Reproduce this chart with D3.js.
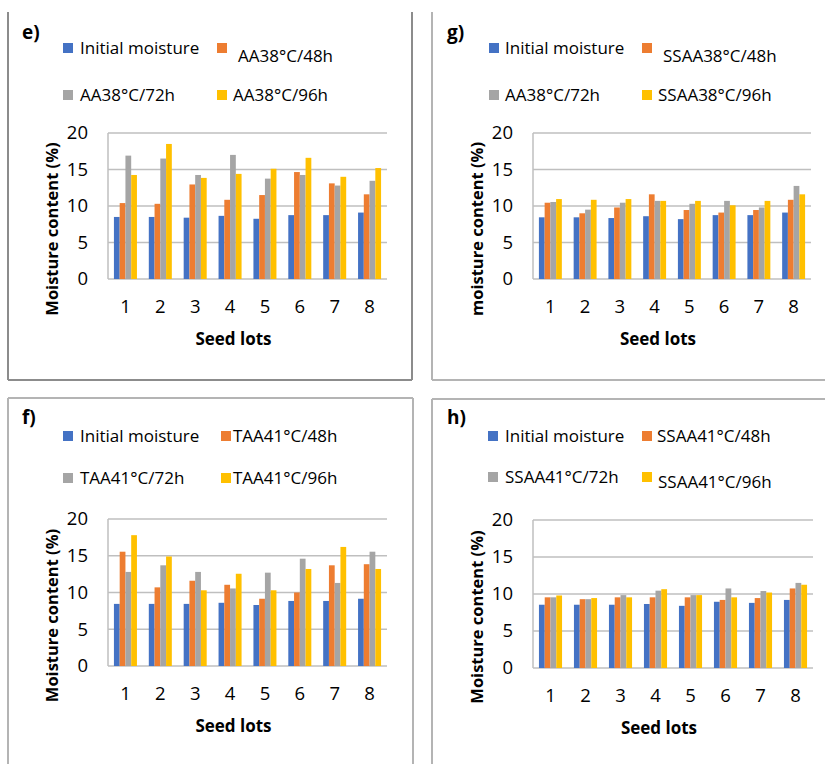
<!DOCTYPE html>
<html>
<head>
<meta charset="utf-8">
<script src="https://cdn.jsdelivr.net/npm/d3@7"></script>
<style>
  body { margin: 0; background: #fff; }
  svg text { font-family: "Open Sans", "DejaVu Sans", sans-serif; fill: #000; }
</style>
</head>
<body>
<svg id="chart" width="825" height="764"></svg>
<script>
// seed lots on the x axis
var seedLots = ['1', '2', '3', '4', '5', '6', '7', '8'];
var yTicks = [0, 5, 10, 15, 20];
var colors = ['#4472C4', '#ED7D31', '#A5A5A5', '#FFC000'];

// e) AA 38°C
var eNames = ['Initial moisture', 'AA38°C/48h', 'AA38°C/72h', 'AA38°C/96h'];
var eInitial = [8.5, 8.5, 8.4, 8.65, 8.25, 8.75, 8.75, 9.1];
var e48 = [10.4, 10.3, 12.95, 10.85, 11.5, 14.65, 13.1, 11.6];
var e72 = [16.9, 16.5, 14.25, 17.0, 13.75, 14.25, 12.8, 13.45];
var e96 = [14.25, 18.5, 13.85, 14.4, 15.1, 16.6, 14.0, 15.2];

// g) SSAA 38°C
var gNames = ['Initial moisture', 'SSAA38°C/48h', 'AA38°C/72h', 'SSAA38°C/96h'];
var gInitial = [8.45, 8.45, 8.35, 8.6, 8.2, 8.75, 8.75, 9.1];
var g48 = [10.45, 9.0, 9.8, 11.6, 9.45, 9.1, 9.45, 10.85];
var g72 = [10.55, 9.5, 10.45, 10.7, 10.3, 10.7, 9.8, 12.75];
var g96 = [10.95, 10.85, 10.95, 10.7, 10.7, 10.1, 10.7, 11.6];

// f) TAA 41°C
var fNames = ['Initial moisture', 'TAA41°C/48h', 'TAA41°C/72h', 'TAA41°C/96h'];
var fInitial = [8.45, 8.45, 8.45, 8.6, 8.3, 8.85, 8.85, 9.15];
var f48 = [15.55, 10.7, 11.6, 11.05, 9.15, 10.0, 13.7, 13.85];
var f72 = [12.8, 13.7, 12.8, 10.55, 12.7, 14.6, 11.3, 15.55];
var f96 = [17.8, 14.9, 10.3, 12.55, 10.3, 13.2, 16.2, 13.2];

// h) SSAA 41°C
var hNames = ['Initial moisture', 'SSAA41°C/48h', 'SSAA41°C/72h', 'SSAA41°C/96h'];
var hInitial = [8.55, 8.55, 8.55, 8.65, 8.4, 8.95, 8.8, 9.2];
var h48 = [9.55, 9.3, 9.55, 9.55, 9.55, 9.2, 9.45, 10.75];
var h72 = [9.55, 9.3, 9.85, 10.45, 9.85, 10.75, 10.4, 11.5];
var h96 = [9.8, 9.45, 9.55, 10.65, 9.85, 9.55, 10.2, 11.25];

var svg = d3.select('#chart');

var panels = [
  {label: 'e)', names: eNames, series: [eInitial, e48, e72, e96], yTitle: 'Moisture content (%)',
   x0: 108, x1: 387, y0: 279, y1: 133, lx: 22,
   borders: [[8, 12, 8, 380], [412, 12, 412, 380], [8, 380, 412, 380]],
   legend: [[63, 54, 80], [217, 62, 238], [63, 101, 80], [217, 101, 233]], yTitleX: 52},
  {label: 'g)', names: gNames, series: [gInitial, g48, g72, g96], yTitle: 'moisture content (%)',
   x0: 533, x1: 811, y0: 279, y1: 133, lx: 447,
   borders: [[432, 12, 432, 380], [432, 380, 825, 380]],
   legend: [[489, 54, 505], [642, 62, 663], [489, 101, 505], [642, 101, 658]], yTitleX: 477},
  {label: 'f)', names: fNames, series: [fInitial, f48, f72, f96], yTitle: 'Moisture content (%)',
   x0: 108, x1: 387, y0: 666, y1: 519, lx: 22,
   borders: [[8, 398, 413, 398], [8, 398, 8, 764], [413, 398, 413, 764]],
   legend: [[63, 442, 80], [221, 442, 233], [63, 484, 80], [221, 484, 233]], yTitleX: 52},
  {label: 'h)', names: hNames, series: [hInitial, h48, h72, h96], yTitle: 'Moisture content (%)',
   x0: 533, x1: 813, y0: 668, y1: 520, lx: 447,
   borders: [[432, 399, 825, 399], [432, 399, 432, 764]],
   legend: [[488, 442, 505], [642, 442, 657], [488, 483, 505], [642, 488, 658]], yTitleX: 477}
];

panels.forEach(function (p, pi) {
  var g = svg.append('g').attr('class', 'panel');

  // panel frame
  g.selectAll('line.frame')
    .data(p.borders)
    .enter()
    .append('line')
      .attr('x1', d => d[0]).attr('y1', d => d[1])
      .attr('x2', d => d[2]).attr('y2', d => d[3])
      .style('stroke', pi === 0 ? '#8c8c8c' : '#b4b4b4')
      .style('stroke-width', 2);

  // panel letter
  g.append('text')
    .attr('x', p.lx)
    .attr('y', pi < 2 ? 39 : 424)
    .style('font-weight', 'bold')
    .style('font-size', '19px')
    .text(p.label);

  // legend
  var leg = g.selectAll('g.leg')
    .data(p.names)
    .enter()
    .append('g');
  leg.append('rect')
    .attr('x', (d, i) => p.legend[i][0])
    .attr('y', (d, i) => (i % 2 === 0 ? p.legend[i][1] : p.legend[i - 1][1]) - 11)
    .attr('width', 10)
    .attr('height', 10)
    .style('fill', (d, i) => colors[i]);
  leg.append('text')
    .attr('x', (d, i) => p.legend[i][2])
    .attr('y', (d, i) => p.legend[i][1])
    .style('font-size', '17px')
    .text(d => d);

  var xScale = d3.scaleBand()
    .domain(seedLots)
    .range([p.x0, p.x1])
    .paddingInner(0.34)
    .paddingOuter(0.17);

  var sub = d3.scaleBand()
    .domain(d3.range(4))
    .range([0, xScale.bandwidth()]);

  var yScale = d3.scaleLinear()
    .domain([0, 20])
    .range([p.y0, p.y1]);

  // gridlines
  g.selectAll('line.grid')
    .data(yTicks)
    .enter()
    .append('line')
      .attr('x1', p.x0).attr('x2', p.x1)
      .attr('y1', d => yScale(d)).attr('y2', d => yScale(d))
      .style('stroke', '#bfbfbf')
      .style('stroke-width', 1.5);
  g.append('line')
    .attr('x1', p.x0).attr('x2', p.x0)
    .attr('y1', yScale(0)).attr('y2', yScale(20))
    .style('stroke', '#bfbfbf')
    .style('stroke-width', 1.5);

  // bars
  p.series.forEach(function (vals, si) {
    g.selectAll('rect.s' + si)
      .data(vals)
      .enter()
      .append('rect')
        .attr('x', (d, i) => xScale(seedLots[i]) + sub(si))
        .attr('y', d => yScale(d))
        .attr('width', sub.bandwidth())
        .attr('height', d => yScale(0) - yScale(d))
        .style('fill', colors[si]);
  });

  // y tick labels
  g.selectAll('text.ytick')
    .data(yTicks)
    .enter()
    .append('text')
      .attr('x', p.x0 - 20)
      .attr('y', d => yScale(d))
      .attr('dy', '0.35em')
      .attr('text-anchor', 'end')
      .style('font-size', '18.5px')
      .text(d => d);

  // x tick labels
  g.selectAll('text.xtick')
    .data(seedLots)
    .enter()
    .append('text')
      .attr('x', d => xScale(d) + xScale.bandwidth() / 2)
      .attr('y', yScale(0) + 28)
      .attr('dy', '0.35em')
      .attr('text-anchor', 'middle')
      .style('font-size', '18.5px')
      .text(d => d);

  // axis titles
  g.append('text')
    .attr('x', (p.x0 + p.x1) / 2 - 14)
    .attr('y', yScale(0) + 66)
    .attr('text-anchor', 'middle')
    .style('font-weight', 'bold')
    .style('font-size', '17px')
    .text('Seed lots');

  g.append('text')
    .attr('transform', 'translate(' + p.yTitleX + ',' + ((p.y0 + p.y1) / 2 + 23) + ') rotate(-90)')
    .attr('text-anchor', 'middle')
    .attr('dy', '0.35em')
    .style('font-weight', 'bold')
    .style('font-size', '16.5px')
    .text(p.yTitle);
});
</script>
</body>
</html>
